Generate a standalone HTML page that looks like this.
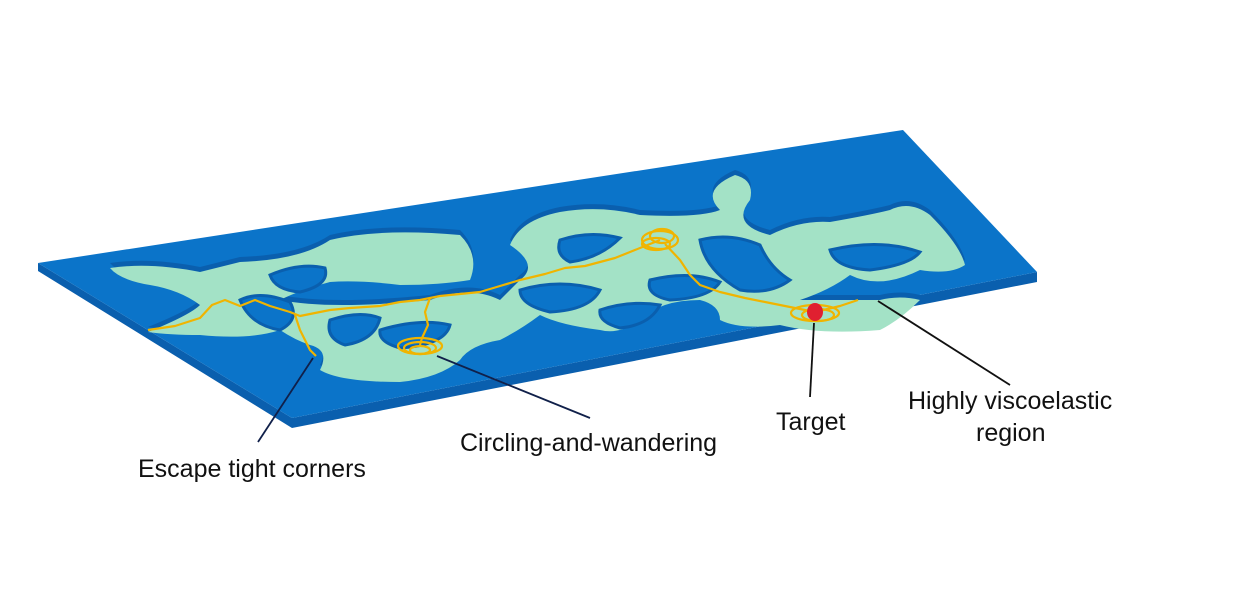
<!DOCTYPE html>
<html><head><meta charset="utf-8"><style>
html,body{margin:0;padding:0;background:#fff;}
svg{display:block;}
text{font-family:"Liberation Sans",sans-serif;font-size:25px;fill:#111;}
</style></head><body>
<svg width="1242" height="590" viewBox="0 0 1242 590">
<polygon points="38,263 38,271 292,428 1037,282 1037,272 292,418" fill="#0a5fae"/>
<polygon points="38,263 903,130 1037,272 292,418" fill="#0b74c9"/>
<g fill="#0a5fae" transform="translate(0,-5)">
<path d="M110,268 Q150,262 200,272 L240,262 Q300,260 330,240 Q380,228 460,235 Q480,255 470,280 Q440,285 400,285 Q360,280 330,282 Q300,290 280,300 Q330,310 430,300 Q470,285 500,300 L520,280 Q540,265 510,245 Q520,220 560,212 Q600,205 640,215 Q700,218 720,210 Q700,190 735,175 Q755,180 750,200 Q730,225 770,235 Q800,220 830,222 Q870,215 890,210 Q910,200 930,215 Q960,245 965,265 Q950,275 920,270 Q880,290 850,275 Q830,290 800,300 Q850,300 880,300 Q900,295 920,300 Q900,320 880,330 Q820,335 780,325 Q740,330 720,320 Q720,305 700,300 Q660,300 640,320 Q620,335 600,330 Q560,325 540,315 Q520,330 500,340 Q470,345 460,360 Q440,378 400,382 Q340,382 320,370 Q330,350 310,345 Q295,340 280,330 Q250,340 200,335 Q170,335 148,332 Q190,315 200,305 Q180,290 150,285 Q120,280 110,268Z"/>
</g>
<g fill="#a3e2c6">
<path d="M110,268 Q150,262 200,272 L240,262 Q300,260 330,240 Q380,228 460,235 Q480,255 470,280 Q440,285 400,285 Q360,280 330,282 Q300,290 280,300 Q330,310 430,300 Q470,285 500,300 L520,280 Q540,265 510,245 Q520,220 560,212 Q600,205 640,215 Q700,218 720,210 Q700,190 735,175 Q755,180 750,200 Q730,225 770,235 Q800,220 830,222 Q870,215 890,210 Q910,200 930,215 Q960,245 965,265 Q950,275 920,270 Q880,290 850,275 Q830,290 800,300 Q850,300 880,300 Q900,295 920,300 Q900,320 880,330 Q820,335 780,325 Q740,330 720,320 Q720,305 700,300 Q660,300 640,320 Q620,335 600,330 Q560,325 540,315 Q520,330 500,340 Q470,345 460,360 Q440,378 400,382 Q340,382 320,370 Q330,350 310,345 Q295,340 280,330 Q250,340 200,335 Q170,335 148,332 Q190,315 200,305 Q180,290 150,285 Q120,280 110,268Z"/>
</g>
<g fill="#0b74c9" stroke="#0a5fae" stroke-width="3">
<path d="M270,275 Q300,262 325,268 Q330,285 300,292 Q275,290 270,275Z"/>
<path d="M240,300 Q260,290 290,302 Q300,320 280,330 Q250,325 240,300Z"/>
<path d="M330,320 Q360,310 380,318 Q375,340 345,345 Q325,338 330,320Z"/>
<path d="M380,330 Q420,318 450,325 Q445,345 400,348 Q378,342 380,330Z"/>
<path d="M560,240 Q590,230 620,238 Q600,258 570,262 Q555,255 560,240Z"/>
<path d="M520,290 Q560,278 600,290 Q590,310 550,312 Q520,305 520,290Z"/>
<path d="M650,280 Q690,270 720,282 Q710,298 670,300 Q645,295 650,280Z"/>
<path d="M700,240 Q730,232 760,245 Q770,268 790,280 Q770,295 740,290 Q705,270 700,240Z"/>
<path d="M830,250 Q880,238 920,252 Q910,265 870,270 Q835,268 830,250Z"/>
<path d="M600,310 Q630,300 660,305 Q650,325 620,328 Q598,322 600,310Z"/>
</g>
<g fill="none" stroke="#f0b400" stroke-width="2.2" stroke-linejoin="round">
<polyline points="148,330 175,326 200,318 212,305 225,300 240,306 255,300 270,306 290,312 300,316 330,310 350,308 380,306 400,302 420,300 440,296 460,294 480,292 500,286 520,280 545,274 565,268 585,266 600,262 615,258 630,252 645,246 660,240"/>
<polyline points="295,315 300,330 305,340 310,350 316,356"/>
<polyline points="430,298 425,312 428,325 422,338 420,345"/>
<polyline points="665,244 680,260 690,275 700,285 720,292 745,298 770,303 795,308 815,312"/>
<polyline points="815,312 840,306 858,300"/>
<ellipse cx="420" cy="346" rx="22" ry="8"/>
<ellipse cx="420" cy="348" rx="16" ry="6"/>
<ellipse cx="420" cy="350" rx="10" ry="4"/>
<ellipse cx="660" cy="240" rx="18" ry="9"/>
<ellipse cx="662" cy="236" rx="12" ry="7"/>
<ellipse cx="656" cy="244" rx="14" ry="6"/>
<ellipse cx="815" cy="313" rx="24" ry="8"/>
<ellipse cx="818" cy="315" rx="16" ry="6"/>
</g>
<ellipse cx="815" cy="312" rx="8" ry="9" fill="#e02030"/>
<line x1="258" y1="442" x2="313" y2="358" stroke="#10204a" stroke-width="1.8"/>
<line x1="590" y1="418" x2="437" y2="356" stroke="#10204a" stroke-width="1.8"/>
<line x1="810" y1="397" x2="814" y2="323" stroke="#111" stroke-width="1.8"/>
<line x1="1010" y1="385" x2="878" y2="301" stroke="#111" stroke-width="1.8"/>
<text x="138" y="477">Escape tight corners</text>
<text x="460" y="451">Circling-and-wandering</text>
<text x="776" y="430">Target</text>
<text x="908" y="409">Highly viscoelastic</text>
<text x="976" y="441">region</text>
</svg>
</body></html>
